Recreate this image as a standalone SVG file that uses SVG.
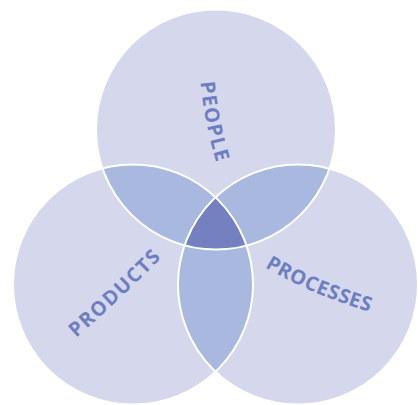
<svg xmlns="http://www.w3.org/2000/svg" width="418" height="405" viewBox="0 0 418 405">
<style>
.fill{fill:#D5D8EC}
.lens{fill:#A8B8DF}
.core{fill:#7480BF}
.edge{fill:none;stroke:#FFFFFF;stroke-width:2}
.lbl{font-family:"Open Sans","Noto Sans","Liberation Sans",sans-serif;font-weight:700;font-size:20px;fill:#6E7EC0}
</style>
<defs>
<clipPath id="cTop"><circle cx="216" cy="129.5" r="120"/></clipPath>
<clipPath id="cLeft"><circle cx="133" cy="284.5" r="120"/></clipPath>
<clipPath id="cRight"><circle cx="298" cy="284.5" r="120"/></clipPath>
<path id="pPeople" d="M200.5,82 Q204.5,125 218,168"/>
<path id="pProducts" d="M76,338 Q121,299 163,256"/>
<path id="pProcesses" d="M265,267 Q305.6,292.3 370,312"/>
</defs>
<rect width="418" height="405" fill="#FFFFFF"/>
<g id="node-people">
<circle class="fill" cx="216" cy="129.5" r="120"/>
<text class="lbl"><textPath href="#pPeople" textLength="82" lengthAdjust="spacing">PEOPLE</textPath></text>
</g>
<g id="node-products">
<circle class="fill" cx="133" cy="284.5" r="120"/>
<text class="lbl"><textPath href="#pProducts" textLength="117" lengthAdjust="spacing">PRODUCTS</textPath></text>
</g>
<g id="node-processes">
<circle class="fill" cx="298" cy="284.5" r="120"/>
<text class="lbl"><textPath href="#pProcesses" textLength="114" lengthAdjust="spacing">PROCESSES</textPath></text>
</g>
<g id="overlaps">
<g clip-path="url(#cTop)"><circle class="lens" cx="133" cy="284.5" r="120"/><circle class="lens" cx="298" cy="284.5" r="120"/></g>
<g clip-path="url(#cLeft)"><circle class="lens" cx="298" cy="284.5" r="120"/></g>
<g clip-path="url(#cTop)"><g clip-path="url(#cLeft)"><circle class="core" cx="298" cy="284.5" r="120"/></g></g>
</g>
<g id="outlines">
<circle class="edge" cx="216" cy="129.5" r="120"/>
<circle class="edge" cx="133" cy="284.5" r="120"/>
<circle class="edge" cx="298" cy="284.5" r="120"/>
</g>
</svg>
